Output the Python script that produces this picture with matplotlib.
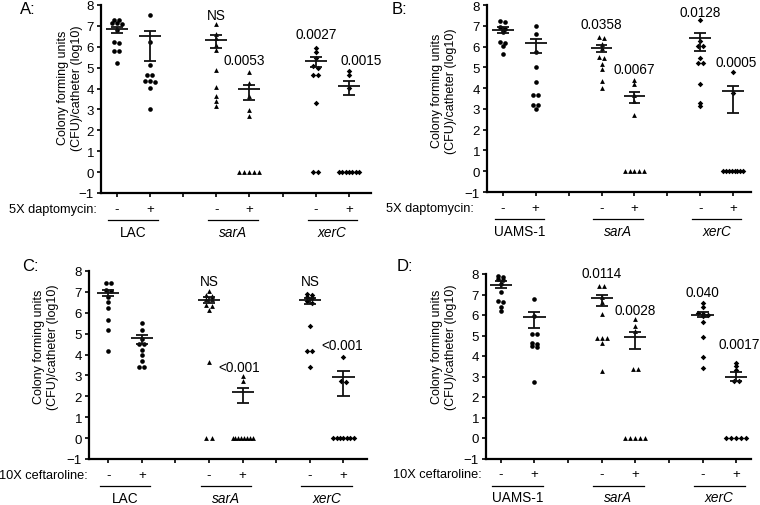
import numpy as np
import matplotlib
matplotlib.use("Agg")
import matplotlib.pyplot as plt
from matplotlib.transforms import blended_transform_factory

plt.rcParams['font.family'] = ['Liberation Sans', 'DejaVu Sans']

W, H = 760, 506

# ------------------------------------------------------------------ data
positions = [1, 2, 4, 5, 7, 8]
signs = ['-', '+', '-', '+', '-', '+']

# Panel A : LAC / 5X daptomycin
A_strains = ['LAC', 'sarA', 'xerC']
A_treatment = '5X daptomycin:'
A_wt_minus = [7.30, 7.28, 7.15, 7.12, 7.10, 6.80, 6.22, 6.20, 5.82, 5.80, 5.22]
A_wt_plus = [7.50, 6.22, 5.15, 4.66, 4.64, 4.34, 4.34, 4.32, 4.02, 3.00]
A_sarA_minus = [7.07, 6.62, 6.40, 6.10, 5.85, 4.90, 4.07, 3.62, 3.40, 3.16]
A_sarA_plus = [4.78, 4.25, 3.65, 2.95, 2.68, 0, 0, 0, 0, 0]
A_xerC_minus = [5.93, 5.77, 5.45, 5.10, 5.00, 4.66, 4.63, 3.32, 0, 0]
A_xerC_plus = [4.86, 4.66, 4.02, 0, 0, 0, 0, 0, 0, 0]
A_center = [6.84, 6.50, 6.33, 3.96, 5.34, 4.11]
A_upper = [6.97, 6.77, 6.54, 4.19, 5.50, 4.34]
A_lower = [6.67, 5.32, 5.93, 3.43, 5.02, 3.70]
A_pvals = ['', '', 'NS', '0.0053', '0.0027', '0.0015']

# Panel B : UAMS-1 / 5X daptomycin
B_strains = ['UAMS-1', 'sarA', 'xerC']
B_treatment = '5X daptomycin:'
B_wt_minus = [7.24, 7.16, 6.92, 6.85, 6.79, 6.68, 6.20, 6.18, 6.04, 5.64]
B_wt_plus = [7.00, 6.60, 5.72, 5.00, 4.28, 3.67, 3.67, 3.20, 3.18, 3.00]
B_sarA_minus = [6.45, 6.42, 6.10, 5.95, 5.48, 5.46, 5.16, 4.92, 4.36, 3.99]
B_sarA_plus = [4.38, 4.20, 3.65, 3.40, 2.71, 0, 0, 0, 0, 0]
B_xerC_minus = [7.28, 6.28, 6.04, 6.02, 5.43, 5.21, 5.20, 4.20, 3.29, 3.16]
B_xerC_plus = [4.79, 3.77, 0, 0, 0, 0, 0, 0, 0, 0]
B_center = [6.79, 6.17, 5.91, 3.64, 6.39, 3.85]
B_upper = [6.92, 6.36, 6.09, 3.83, 6.63, 4.09]
B_lower = [6.65, 5.67, 5.72, 3.29, 5.80, 2.81]
B_pvals = ['', '', '0.0358', '0.0067', '0.0128', '0.0005']

# Panel C : LAC / 10X ceftaroline
C_strains = ['LAC', 'sarA', 'xerC']
C_treatment = '10X ceftaroline:'
C_wt_minus = [7.42, 7.42, 7.07, 7.05, 6.75, 6.51, 6.22, 5.66, 5.18, 4.16]
C_wt_plus = [5.50, 5.18, 4.75, 4.52, 4.50, 4.22, 3.98, 3.71, 3.39, 3.39]
C_sarA_minus = [7.05, 6.85, 6.82, 6.67, 6.65, 6.35, 6.33, 6.15, 3.63, 0, 0]
C_sarA_plus = [2.95, 2.75, 0, 0, 0, 0, 0, 0, 0, 0]
C_xerC_minus = [6.88, 6.86, 6.75, 6.73, 6.55, 6.46, 5.39, 4.16, 4.15, 3.39]
C_xerC_plus = [3.90, 2.72, 2.70, 0, 0, 0, 0, 0, 0, 0]
C_center = [6.94, 4.80, 6.59, 2.19, 6.59, 2.94]
C_upper = [7.07, 4.96, 6.75, 2.40, 6.72, 3.20]
C_lower = [6.78, 4.51, 6.46, 1.66, 6.43, 2.03]
C_pvals = ['', '', 'NS', '<0.001', 'NS', '<0.001']

# Panel D : UAMS-1 / 10X ceftaroline
D_strains = ['UAMS-1', 'sarA', 'xerC']
D_treatment = '10X ceftaroline:'
D_wt_minus = [7.90, 7.85, 7.75, 7.70, 7.50, 7.10, 6.67, 6.65, 6.37, 6.21]
D_wt_plus = [6.78, 5.97, 5.07, 5.05, 4.63, 4.60, 4.50, 4.45, 2.72]
D_sarA_minus = [7.40, 7.40, 6.86, 6.62, 6.05, 4.88, 4.88, 4.87, 4.62, 3.28]
D_sarA_plus = [5.80, 5.45, 5.20, 3.37, 3.37, 0, 0, 0, 0, 0]
D_xerC_minus = [6.57, 6.37, 6.10, 6.05, 6.00, 5.95, 5.64, 4.94, 3.93, 3.41]
D_xerC_plus = [3.66, 3.53, 3.32, 2.80, 2.80, 0, 0, 0, 0, 0]
D_center = [7.48, 5.92, 6.81, 4.94, 6.00, 2.99]
D_upper = [7.64, 6.13, 6.99, 5.15, 6.13, 3.20]
D_lower = [7.32, 5.35, 6.46, 4.34, 5.89, 2.76]
D_pvals = ['', '', '0.0114', '0.0028', '0.040', '0.0017']

ylabel = 'Colony forming units\n(CFU)/catheter (log10)'

# ------------------------------------------------------------------ layout
panels = [
    dict(letter='A:', strains=A_strains, treat=A_treatment,
         groups=[A_wt_minus, A_wt_plus, A_sarA_minus, A_sarA_plus, A_xerC_minus, A_xerC_plus],
         center=A_center, upper=A_upper, lower=A_lower, pvals=A_pvals,
         box=(101, 371, 6, 194), xlim=(0.53, 8.66),
         pv_pos=[None, None, (4, 7.53), (4.85, 5.37), (7, 6.62), (8.35, 5.37)],
         letter_xy=(20, 10), ylab_xy=(70, 88), treat_x=97),
    dict(letter='B:', strains=B_strains, treat=B_treatment,
         groups=[B_wt_minus, B_wt_plus, B_sarA_minus, B_sarA_plus, B_xerC_minus, B_xerC_plus],
         center=B_center, upper=B_upper, lower=B_lower, pvals=B_pvals,
         box=(487, 751, 6, 193), xlim=(0.52, 8.54),
         pv_pos=[None, None, (4, 7.08), (5, 4.92), (7, 7.64), (8.1, 5.24)],
         letter_xy=(392, 10), ylab_xy=(444, 91), treat_x=474),
    dict(letter='C:', strains=C_strains, treat=C_treatment,
         groups=[C_wt_minus, C_wt_plus, C_sarA_minus, C_sarA_plus, C_xerC_minus, C_xerC_plus],
         center=C_center, upper=C_upper, lower=C_lower, pvals=C_pvals,
         box=(89, 367, 272, 460), xlim=(0.43, 8.7),
         pv_pos=[None, None, (4, 7.52), (4.9, 3.39), (7, 7.52), (7.95, 4.46)],
         letter_xy=(22, 267), ylab_xy=(46, 347), treat_x=88),
    dict(letter='D:', strains=D_strains, treat=D_treatment,
         groups=[D_wt_minus, D_wt_plus, D_sarA_minus, D_sarA_plus, D_xerC_minus, D_xerC_plus],
         center=D_center, upper=D_upper, lower=D_lower, pvals=D_pvals,
         box=(486, 751, 275, 459.5), xlim=(0.56, 8.44),
         pv_pos=[None, None, (4, 8.05), (5, 6.24), (7, 7.1), (8.1, 4.58)],
         letter_xy=(397, 267), ylab_xy=(444, 347), treat_x=482),
]

markers = ['o', 'o', '^', '^', 'D', 'D']
msizes = [11, 11, 12, 12, 8, 8]


def jitter(vals, tol=0.1):
    """Spread points with nearly equal values horizontally (column scatter)."""
    order = np.argsort(vals)[::-1]
    v = np.asarray(vals, float)[order]
    offs = np.zeros(len(v))
    i = 0
    while i < len(v):
        j = i
        while j + 1 < len(v) and v[i] - v[j + 1] < tol:
            j += 1
        n = j - i + 1
        step = min(0.15, 0.6 / max(n - 1, 1))
        offs[i:j + 1] = (np.arange(n) - (n - 1) / 2) * step
        i = j + 1
    return v, offs


fig = plt.figure(figsize=(W / 100, H / 100), dpi=100)

for p in panels:
    l, r, t, b = p['box']
    ax = fig.add_axes([l / W, 1 - b / H, (r - l) / W, (b - t) / H])
    ax.set_xlim(*p['xlim'])
    ax.set_ylim(-1, 8)
    for s in ['top', 'right']:
        ax.spines[s].set_visible(False)
    for s in ['left', 'bottom']:
        ax.spines[s].set_linewidth(1.6)
    ax.set_yticks(range(-1, 9))
    ax.set_xticks(range(1, 9))
    ax.set_xticklabels([])
    ax.tick_params(axis='y', labelsize=9.5, length=3, width=1.2, pad=2)
    ax.tick_params(axis='x', length=3, width=1.2)

    for k, (pos, vals) in enumerate(zip(positions, p['groups'])):
        v, offs = jitter(vals)
        ax.scatter(pos + offs, v, s=msizes[k], marker=markers[k], color='black',
                   linewidths=0, zorder=3, clip_on=False)
        ax.hlines(p['center'][k], pos - 0.33, pos + 0.33, color='#111111', lw=1.3, zorder=4)
        ax.hlines([p['upper'][k], p['lower'][k]], pos - 0.18, pos + 0.18,
                  color='#111111', lw=1.3, zorder=4)
        ax.vlines(pos, p['lower'][k], p['upper'][k], color='#111111', lw=1.3, zorder=4)
        if p['pvals'][k]:
            x, y = p['pv_pos'][k]
            ax.text(x, y, p['pvals'][k], ha='center', va='center', fontsize=9.8)

    trans = blended_transform_factory(ax.transData, fig.transFigure)
    # +/- row
    for pos, sg in zip(positions, signs):
        ax.text(pos, 1 - (b + 16) / H, sg, transform=trans, ha='center', va='center',
                fontsize=9.5)
    # underline and strain names
    for g, name in enumerate(p['strains']):
        x0, x1 = positions[2 * g], positions[2 * g + 1]
        ax.plot([x0 - 0.25, x1 + 0.25], [1 - (b + 27) / H] * 2, transform=trans,
                color='black', lw=0.9, clip_on=False)
        style = 'normal' if g == 0 else 'italic'
        ax.text((x0 + x1) / 2, 1 - (b + 39) / H, name, transform=trans, ha='center',
                va='center', fontsize=9.8, style=style)

    fig.text(p['treat_x'] / W, 1 - (b + 16) / H, p['treat'], ha='right', va='center',
             fontsize=9.2)
    fig.text(p['letter_xy'][0] / W, 1 - p['letter_xy'][1] / H, p['letter'], ha='left',
             va='center', fontsize=12)
    fig.text(p['ylab_xy'][0] / W, 1 - p['ylab_xy'][1] / H, ylabel, rotation=90,
             ha='center', va='center', fontsize=9, linespacing=1.15, multialignment='center')

fig.savefig('out.png', dpi=100)
